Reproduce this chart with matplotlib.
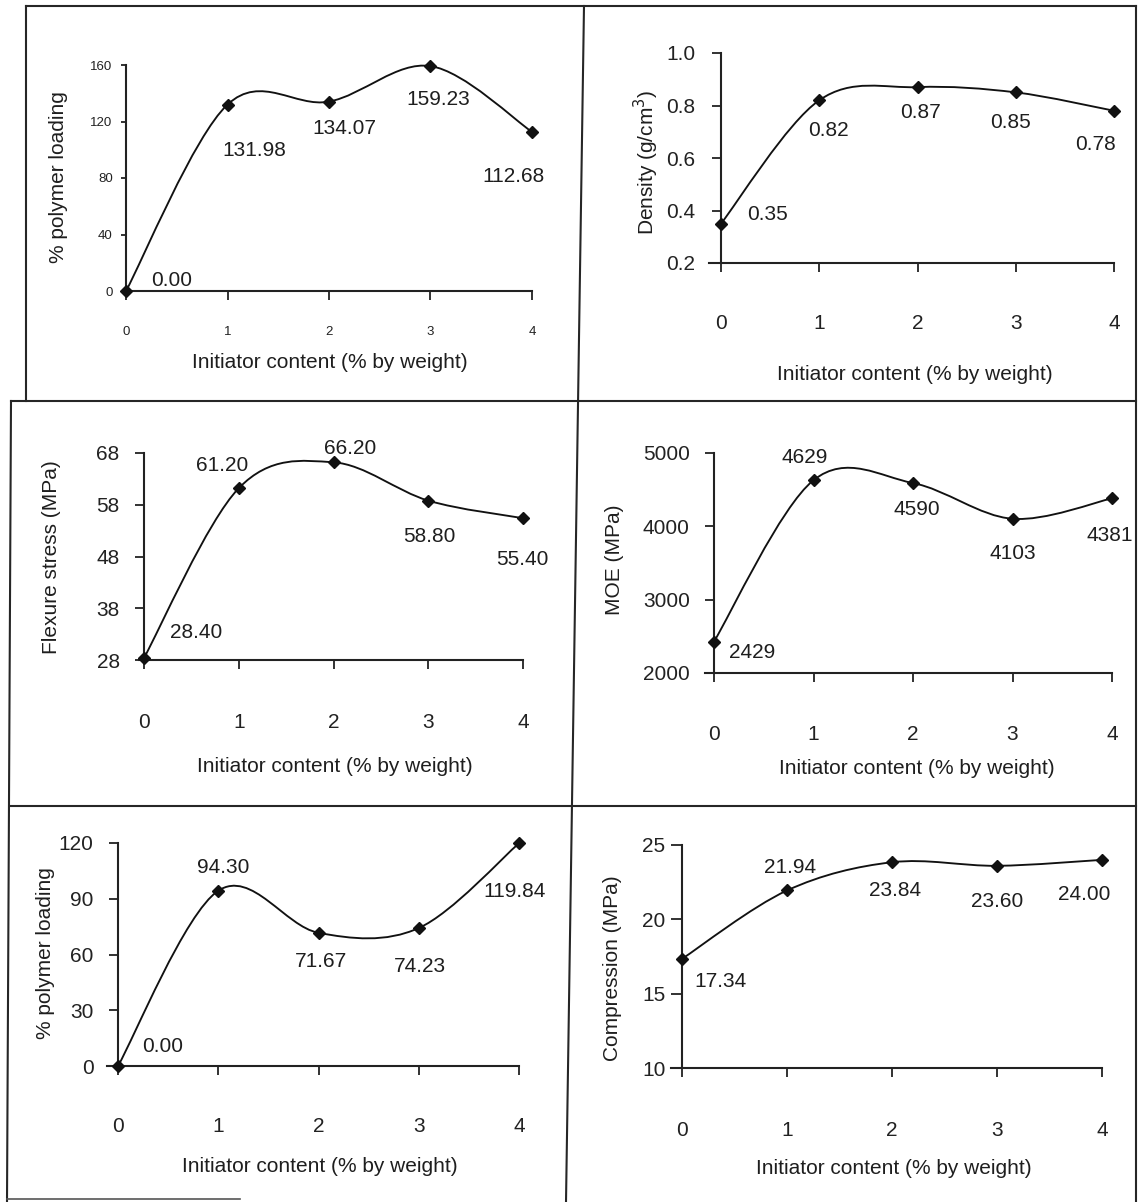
import numpy as np
import matplotlib.pyplot as plt
from matplotlib.path import Path
from matplotlib.patches import PathPatch
from matplotlib.lines import Line2D

plt.rcParams['font.family'] = ['Liberation Sans', 'DejaVu Sans']
plt.rcParams['text.color'] = '#1e1e1e'

W, H, DPI = 1142, 1202, 100

# ---------------------------------------------------------------------------
# data
# ---------------------------------------------------------------------------
initiator = [0, 1, 2, 3, 4]
x_tick_labels = ['0', '1', '2', '3', '4']
x_title = 'Initiator content (% by weight)'

loading_a = [0.00, 131.98, 134.07, 159.23, 112.68]
density = [0.35, 0.82, 0.87, 0.85, 0.78]
flexure = [28.40, 61.20, 66.20, 58.80, 55.40]
moe = [2429, 4629, 4590, 4103, 4381]
loading_b = [0.00, 94.30, 71.67, 74.23, 119.84]
compression = [17.34, 21.94, 23.84, 23.60, 24.00]

yticks_loading_a = [0, 40, 80, 120, 160]
yticks_density = [0.2, 0.4, 0.6, 0.8, 1.0]
yticks_flexure = [28, 38, 48, 58, 68]
yticks_moe = [2000, 3000, 4000, 5000]
yticks_loading_b = [0, 30, 60, 90, 120]
yticks_compression = [10, 15, 20, 25]

# ---------------------------------------------------------------------------
# layout of each panel (pixel positions on the page)
# ---------------------------------------------------------------------------
panels = [
    dict(y=loading_a, yticks=yticks_loading_a, yfmt='{:.0f}', vfmt='{:.2f}',
         ylabel='% polymer loading',
         xpx=(126, 532), xstart=124, ypx=(291, 65),
         tick_fs=9.5, ytick_len=5, ytick_pad=6, xtick_pad=19,
         ylabel_at=(59, 177), xlabel_at=(330, 363),
         offs=[(46, 10), (27, -46), (15, -27), (8, -33), (-19, -45)]),
    dict(y=density, yticks=yticks_density, yfmt='{:.1f}', vfmt='{:.2f}',
         ylabel='Density (g/cm$^{3}$)',
         xpx=(721, 1114), xstart=709, ypx=(263, 53),
         tick_fs=15, ytick_len=9, ytick_pad=12, xtick_pad=30,
         ylabel_at=(646, 162), xlabel_at=(915, 375),
         offs=[(46, 9), (9, -30), (3, -25), (-5, -30), (-18, -34)]),
    dict(y=flexure, yticks=yticks_flexure, yfmt='{:.0f}', vfmt='{:.2f}',
         ylabel='Flexure stress (MPa)',
         xpx=(144, 523), xstart=139, ypx=(660, 453),
         tick_fs=15, ytick_len=9, ytick_pad=11, xtick_pad=32,
         ylabel_at=(52, 557), xlabel_at=(335, 767),
         offs=[(52, 25), (-17, 23), (17, 14), (1, -36), (-1, -41)]),
    dict(y=moe, yticks=yticks_moe, yfmt='{:.0f}', vfmt='{:.0f}',
         ylabel='MOE (MPa)',
         xpx=(714, 1112), xstart=705, ypx=(673, 453),
         tick_fs=15, ytick_len=9, ytick_pad=11, xtick_pad=31,
         ylabel_at=(614, 560), xlabel_at=(917, 768),
         offs=[(38, -11), (-9, 23), (4, -26), (0, -35), (-2, -37)]),
    dict(y=loading_b, yticks=yticks_loading_b, yfmt='{:.0f}', vfmt='{:.2f}',
         ylabel='% polymer loading',
         xpx=(118, 519), xstart=107, ypx=(1066, 843),
         tick_fs=15, ytick_len=9, ytick_pad=11, xtick_pad=30,
         ylabel_at=(46, 953), xlabel_at=(320, 1167),
         offs=[(45, 19), (5, 23), (3, -29), (1, -38), (-4, -48)]),
    dict(y=compression, yticks=yticks_compression, yfmt='{:.0f}', vfmt='{:.2f}',
         ylabel='Compression (MPa)',
         xpx=(682, 1102), xstart=671, ypx=(1068, 845),
         tick_fs=15, ytick_len=11, ytick_pad=4, xtick_pad=32,
         ylabel_at=(612, 968), xlabel_at=(894, 1168),
         offs=[(39, -23), (3, 23), (3, -28), (0, -36), (-18, -35)]),
]


def smooth_path(xs, ys):
    """Smoothed line through the points (cubic Bezier, Catmull-Rom tangents)."""
    pts = np.column_stack([xs, ys]).astype(float)
    ext = np.vstack([pts[0], pts, pts[-1]])
    verts = [pts[0]]
    codes = [Path.MOVETO]
    for i in range(len(pts) - 1):
        p0, p1, p2, p3 = ext[i], ext[i + 1], ext[i + 2], ext[i + 3]
        verts += [p1 + (p2 - p0) / 6.0, p2 - (p3 - p1) / 6.0, p2]
        codes += [Path.CURVE4] * 3
    return Path(verts, codes)


def fig_line(x0, y0, x1, y1, lw=1.5, color='#262626'):
    fig.add_artist(Line2D([x0 / W, x1 / W], [1 - y0 / H, 1 - y1 / H],
                          transform=fig.transFigure, lw=lw, color=color))


fig = plt.figure(figsize=(W / DPI, H / DPI), dpi=DPI)
fig.patch.set_facecolor('white')

for p in panels:
    px0, px4 = p['xpx']
    sx = (px4 - px0) / 4.0
    xlo = (p['xstart'] - px0) / sx
    ybot, ytop = p['ypx']
    ax = fig.add_axes([p['xstart'] / W, 1 - ybot / H,
                       (px4 - p['xstart']) / W, (ybot - ytop) / H])
    ax.set_facecolor('none')
    ax.set_xlim(xlo, 4)
    ax.set_ylim(p['yticks'][0], p['yticks'][-1])

    for side in ('top', 'right'):
        ax.spines[side].set_visible(False)
    ax.spines['left'].set_position(('data', 0))
    for side in ('left', 'bottom'):
        ax.spines[side].set_linewidth(1.5)
        ax.spines[side].set_color('#222222')

    ax.set_xticks(initiator)
    ax.set_xticklabels(x_tick_labels)
    ax.set_yticks(p['yticks'])
    ax.set_yticklabels([p['yfmt'].format(v) for v in p['yticks']])
    ax.tick_params(axis='x', direction='out', length=6.5, width=1.3,
                   pad=p['xtick_pad'], labelsize=p['tick_fs'], colors='#222222')
    ax.tick_params(axis='y', direction='out', length=p['ytick_len'] / 1.389,
                   width=1.3, pad=p['ytick_pad'], labelsize=p['tick_fs'],
                   colors='#222222')

    ax.add_patch(PathPatch(smooth_path(initiator, p['y']), fc='none',
                           ec='#111111', lw=1.35, clip_on=False))
    ax.plot(initiator, p['y'], ls='none', marker='D', ms=6.2,
            color='#111111', clip_on=False, zorder=4)

    for xv, yv, (dx, dy) in zip(initiator, p['y'], p['offs']):
        ax.annotate(p['vfmt'].format(yv), (xv, yv), xytext=(dx, dy),
                    textcoords='offset pixels', ha='center', va='center',
                    fontsize=15, color='#1e1e1e')

    fig.text(p['ylabel_at'][0] / W, 1 - p['ylabel_at'][1] / H, p['ylabel'],
             rotation=90, ha='center', va='center', fontsize=15)
    fig.text(p['xlabel_at'][0] / W, 1 - p['xlabel_at'][1] / H, x_title,
             ha='center', va='center', fontsize=15)

# frame around the six panels
fig_line(26, 6, 1136, 6)
fig_line(26, 6, 26, 401)
fig_line(11, 401, 7, 1202)
fig_line(1136, 6, 1136, 1202)
fig_line(584, 6, 566, 1202)
fig_line(11, 401, 1136, 401)
fig_line(10, 806, 1136, 806)
fig_line(7, 1199, 240, 1199, lw=1.2, color='#555555')

fig.savefig('out.png', dpi=DPI, facecolor='white')
